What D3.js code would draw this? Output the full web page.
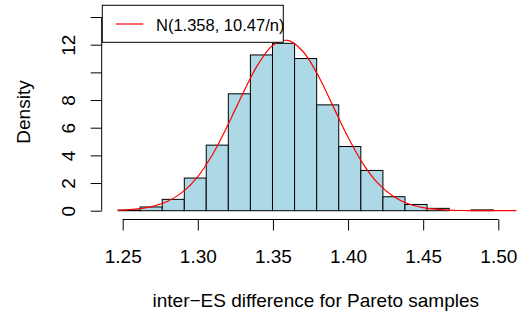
<!DOCTYPE html>
<meta charset="utf-8">
<style>
body {
  margin: 0;
  background: #fff;
}
svg text {
  font-family: "Liberation Sans", Arial, sans-serif;
  fill: #000;
}
.axis path, .axis line {
  stroke: #000;
  stroke-width: 1px;
}
.bars rect {
  fill: #add8e6;
  stroke: #000;
  stroke-width: 1px;
}
</style>
<body>
<svg width="521" height="314"></svg>
<script src="https://cdn.jsdelivr.net/npm/d3@7"></script>
<script>
// histogram breaks (bin edges) and bar densities
var breaks = [1.2469, 1.2616, 1.2763, 1.2910, 1.3056, 1.3203, 1.3350, 1.3497, 1.3644,
              1.3791, 1.3938, 1.4085, 1.4232, 1.4379, 1.4526, 1.4673, 1.4820, 1.4967];
var density = [0.04, 0.27, 0.82, 2.36, 4.74, 8.45, 11.26, 12.10, 11.00,
               7.65, 4.64, 2.91, 1.01, 0.45, 0.17, 0.00, 0.06];

// red curve
var curveX = [1.2469, 1.25, 1.26, 1.27, 1.28, 1.29, 1.30, 1.31, 1.32, 1.33, 1.34, 1.35,
              1.36, 1.37, 1.38, 1.39, 1.40, 1.41, 1.42, 1.43, 1.44, 1.45, 1.46, 1.47,
              1.48, 1.49, 1.50, 1.512];
var curveY = [0.03, 0.05, 0.13, 0.31, 0.68, 1.36, 2.47, 4.10, 6.19, 8.48, 10.56, 11.96,
              12.31, 11.51, 9.79, 7.56, 5.31, 3.39, 1.97, 1.04, 0.50, 0.22, 0.09, 0.03,
              0.01, 0.00, 0.00, 0.00];

var xTicks = [1.25, 1.30, 1.35, 1.40, 1.45, 1.50];
var yTicks = [0, 2, 4, 6, 8, 10, 12, 14];
var yLabels = [0, 2, 4, 6, 8, 12];

var legendText = "N(1.358, 10.47/n)";
var xTitle = "inter\u2212ES difference for Pareto samples";
var yTitle = "Density";

var svg = d3.select("svg");

var x = d3.scaleLinear().domain([1.25, 1.50]).range([122.7, 498.3]);
var y = d3.scaleLinear().domain([0, 12]).range([210.7, 44.7]);

// bars
svg.append("g")
    .attr("class", "bars")
  .selectAll("rect")
  .data(density)
  .enter().append("rect")
    .attr("x", function(d, i) { return x(breaks[i]); })
    .attr("width", function(d, i) { return x(breaks[i + 1]) - x(breaks[i]); })
    .attr("y", function(d) { return y(d); })
    .attr("height", function(d) { return y(0) - y(d); });

// normal curve
var line = d3.line()
    .x(function(d, i) { return x(curveX[i]); })
    .y(function(d) { return y(d); })
    .curve(d3.curveCatmullRom);

svg.append("path")
    .datum(curveY)
    .attr("d", line)
    .attr("fill", "none")
    .attr("stroke", "#ff0000")
    .attr("stroke-width", 1.2);

// x axis (R style: detached, line only between first and last tick)
var gx = svg.append("g")
    .attr("class", "axis")
    .attr("transform", "translate(0,219.5)")
    .call(d3.axisBottom(x).tickValues(xTicks).tickSize(11).tickSizeOuter(0)
      .tickFormat(d3.format(".2f")));
gx.select(".domain").attr("d", "M" + x(1.25) + ",0H" + x(1.50));
gx.selectAll("text")
    .attr("y", 0)
    .attr("dy", null)
    .attr("transform", "translate(0,43.8)")
    .style("font-size", "19px")
    .style("font-family", "Liberation Sans, Arial, sans-serif");

// y axis
var gy = svg.append("g")
    .attr("class", "axis")
    .attr("transform", "translate(101.7,0)")
    .call(d3.axisLeft(y).tickValues(yTicks).tickSize(11).tickSizeOuter(0)
      .tickFormat(function(d) { return yLabels.indexOf(d) >= 0 ? d : ""; }));
gy.select(".domain").attr("d", "M0," + y(0) + "V" + y(14));
gy.selectAll("text")
    .attr("x", null)
    .attr("dy", null)
    .attr("text-anchor", "middle")
    .attr("transform", "translate(-26.7,0) rotate(-90)")
    .style("font-size", "19px")
    .style("font-family", "Liberation Sans, Arial, sans-serif");

// axis titles
svg.append("text")
    .attr("x", 315.8)
    .attr("y", 306.5)
    .attr("text-anchor", "middle")
    .style("font-size", "19px")
    .text(xTitle);

svg.append("text")
    .attr("transform", "translate(29.8,112) rotate(-90)")
    .attr("text-anchor", "middle")
    .style("font-size", "19px")
    .text(yTitle);

// legend
var lg = svg.append("g");
lg.append("rect")
    .attr("x", 102.3).attr("y", 5.3)
    .attr("width", 181).attr("height", 37)
    .attr("fill", "#fff")
    .attr("stroke", "#000")
    .attr("stroke-width", 1);
lg.append("line")
    .attr("x1", 115.7).attr("x2", 143.3)
    .attr("y1", 24).attr("y2", 24)
    .attr("stroke", "#ff0000")
    .attr("stroke-width", 1.2);
lg.append("text")
    .attr("x", 156)
    .attr("y", 30.5)
    .style("font-size", "16.5px")
    .text(legendText);
</script>
</body>
